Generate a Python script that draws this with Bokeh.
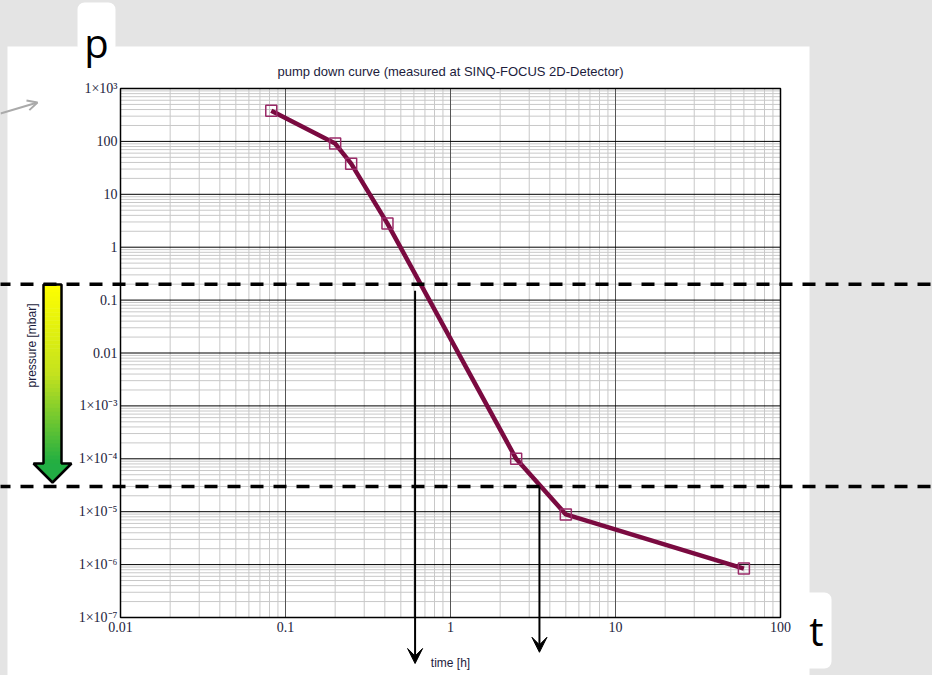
from bokeh.plotting import figure
from bokeh.models import (Range1d, LogScale, CoordinateMapping, Arrow, VeeHead,
                          OpenHead, BoxAnnotation)
from bokeh.core.properties import value
from bokeh.embed import file_html
from bokeh.resources import INLINE
from bokeh.core.templates import FILE
from math import pi

# ---------------- data ----------------
title_text = "pump down curve (measured at SINQ-FOCUS 2D-Detector)"
time_h = [0.082, 0.2, 0.25, 0.415, 2.5, 5.0, 60.0]
pressure_mbar = [380.0, 91.0, 38.0, 2.8, 1.0e-4, 8.9e-6, 8.4e-7]

threshold_p = [0.2, 3.0e-5]          # dashed horizontal levels
cross_t = [0.61, 3.46]               # times marked by vertical arrows
arrow_top_p = [0.15, 3.0e-5]
arrow_tip_p = [1.35e-8, 2.2e-8]

x_ticks = [0.01, 0.1, 1.0, 10.0, 100.0]
x_tick_labels = ["0.01", "0.1", "1", "10", "100"]
y_ticks = [1e-7, 1e-6, 1e-5, 1e-4, 1e-3, 1e-2, 1e-1, 1.0, 10.0, 100.0, 1000.0]
y_tick_labels = ["1×10⁻⁷", "1×10⁻⁶", "1×10⁻⁵", "1×10⁻⁴", "1×10⁻³",
                 "0.01", "0.1", "1", "10", "100", "1×10³"]

x_minor = [m * 10.0 ** k for k in range(-2, 2) for m in range(2, 10)]
y_minor = [m * 10.0 ** k for k in range(-7, 3) for m in range(2, 10)]

LINE_C = "#7a0a40"
MARK_C = "#9a2a68"
TXT_C = "#1c1c3c"
GRID_C = "#c8c8c8"

# ---------------- page canvas (pixel space, y downwards) ----------------
p = figure(width=932, height=675, x_range=Range1d(0, 932), y_range=Range1d(675, 0),
           output_backend="svg", toolbar_location=None, min_border=0,
           x_axis_location=None, y_axis_location=None)
p.xgrid.visible = False
p.ygrid.visible = False
p.outline_line_color = None
p.background_fill_color = "#e4e4e4"
p.border_fill_color = "#e4e4e4"

# tabs (rounded) and white panel
for l, r, t, b in [(77, 115, 2, 52), (800, 831, 592, 668)]:
    p.add_layout(BoxAnnotation(left=l, right=r, top=t, bottom=b, fill_color="white",
                               fill_alpha=1.0, line_color=None, border_radius=7,
                               level="underlay"))
p.quad(left=7, right=809, top=46, bottom=680, fill_color="white", line_color=None)

# log-log chart area mapped into the page
x_lo, x_hi = x_ticks[0], x_ticks[-1]
y_lo, y_hi = y_ticks[0], y_ticks[-1]
cm = CoordinateMapping(x_source=Range1d(x_lo, x_hi), y_source=Range1d(y_lo, y_hi),
                       x_scale=LogScale(), y_scale=LogScale(),
                       x_target=Range1d(120, 780), y_target=Range1d(617, 88))

def sub(r):
    r.coordinates = cm
    return r

# grid
sub(p.segment(x0=x_minor, y0=[y_lo] * len(x_minor), x1=x_minor, y1=[y_hi] * len(x_minor),
              line_color=GRID_C, line_width=1))
sub(p.segment(x0=[x_lo] * len(y_minor), y0=y_minor, x1=[x_hi] * len(y_minor), y1=y_minor,
              line_color=GRID_C, line_width=1))
sub(p.segment(x0=x_ticks, y0=[y_lo] * len(x_ticks), x1=x_ticks, y1=[y_hi] * len(x_ticks),
              line_color="#555555", line_width=1))
sub(p.segment(x0=[x_lo] * len(y_ticks), y0=y_ticks, x1=[x_hi] * len(y_ticks), y1=y_ticks,
              line_color="black", line_width=1))
sub(p.quad(left=x_lo, right=x_hi, bottom=y_lo, top=y_hi, fill_color=None,
           line_color="black", line_width=1.5))

# tick labels
sub(p.text(x=x_ticks, y=[y_lo] * len(x_ticks), text=x_tick_labels, y_offset=4,
           text_font=value("Liberation Serif"), text_font_size="14px", text_color=TXT_C,
           text_align="center", text_baseline="top"))
sub(p.text(x=[x_lo] * len(y_ticks), y=y_ticks, text=y_tick_labels, x_offset=-3,
           text_font=value("Liberation Serif"), text_font_size="14px", text_color=TXT_C,
           text_align="right", text_baseline="middle"))

# titles / axis labels
p.text(x=[450], y=[71], text=[title_text], text_font=value("Liberation Sans"),
       text_font_size="13px", text_color=TXT_C, text_align="center", text_baseline="middle")
p.text(x=[450], y=[662], text=["time [h]"], text_font=value("Liberation Sans"),
       text_font_size="12px", text_color=TXT_C, text_align="center", text_baseline="middle")
p.text(x=[31], y=[345], text=["pressure [mbar]"], text_font=value("Liberation Sans"),
       text_font_size="12px", text_color=TXT_C, text_align="center", text_baseline="middle",
       angle=pi / 2)
p.text(x=[96, 816], y=[42, 630], text=["p", "t"], text_font=value("Open Sans"),
       text_font_size="40px", text_color="black", text_align="center",
       text_baseline="alphabetic")

# grey pointer arrow
p.add_layout(Arrow(x_start=0, y_start=113, x_end=37, y_end=102,
                   line_color="#aaaaaa", line_width=2,
                   end=OpenHead(size=10, line_color="#aaaaaa", line_width=2)))

# gradient arrow (yellow -> green)
def lerp(c1, c2, f):
    return tuple(int(round(a + (b - a) * f)) for a, b in zip(c1, c2))

stops = [(0.0, (255, 255, 0)), (0.5, (196, 226, 30)), (1.0, (32, 174, 66))]
def grad(f):
    for (f1, c1), (f2, c2) in zip(stops[:-1], stops[1:]):
        if f <= f2:
            return "#%02x%02x%02x" % lerp(c1, c2, (f - f1) / (f2 - f1))
    return "#%02x%02x%02x" % stops[-1][1]

shaft_top, shaft_bot, nstrip = 284, 463, 45
step = (shaft_bot - shaft_top) / nstrip
tops = [shaft_top + i * step for i in range(nstrip)]
p.quad(left=[43] * nstrip, right=[61] * nstrip, top=tops, bottom=[t + step + 0.5 for t in tops],
       fill_color=[grad((i + 0.5) / nstrip) for i in range(nstrip)], line_color=None)
p.patch(x=[33, 71, 52], y=[463, 463, 482], fill_color="#22ae44", line_color=None)
p.patch(x=[43, 61, 61, 71, 52, 33, 43, 43], y=[284, 284, 463, 463, 482, 463, 463, 284],
        fill_color=None, fill_alpha=0, line_color="black", line_width=2.5)

# ---------------- data curve ----------------
sub(p.line(time_h, pressure_mbar, line_color=LINE_C, line_width=4.5))
sub(p.scatter(time_h, pressure_mbar, marker="square", size=11, fill_color=None,
              line_color=MARK_C, line_width=1.5))

# ---------------- threshold lines and crossing arrows ----------------
sub(p.segment(x0=[1e-4] * len(threshold_p), y0=threshold_p, x1=[1e5] * len(threshold_p),
              y1=threshold_p, line_color="black", line_width=3.5, line_dash="13 10"))

for tx, ytop, ytip in zip(cross_t, arrow_top_p, arrow_tip_p):
    a = Arrow(x_start=tx, y_start=ytop, x_end=tx, y_end=ytip,
              line_color="black", line_width=2,
              end=VeeHead(size=15, fill_color="black", line_color="black", line_width=1))
    a.coordinates = cm
    p.add_layout(a)

tmpl = FILE.environment.from_string(
    "{% extends base %}\n{% block postamble %}<style>html, body { background-color: #e4e4e4; }</style>{% endblock %}")
html = file_html(p, INLINE, title="pump down curve", template=tmpl, template_variables={"base": FILE})
open("out.html", "w").write(html)
